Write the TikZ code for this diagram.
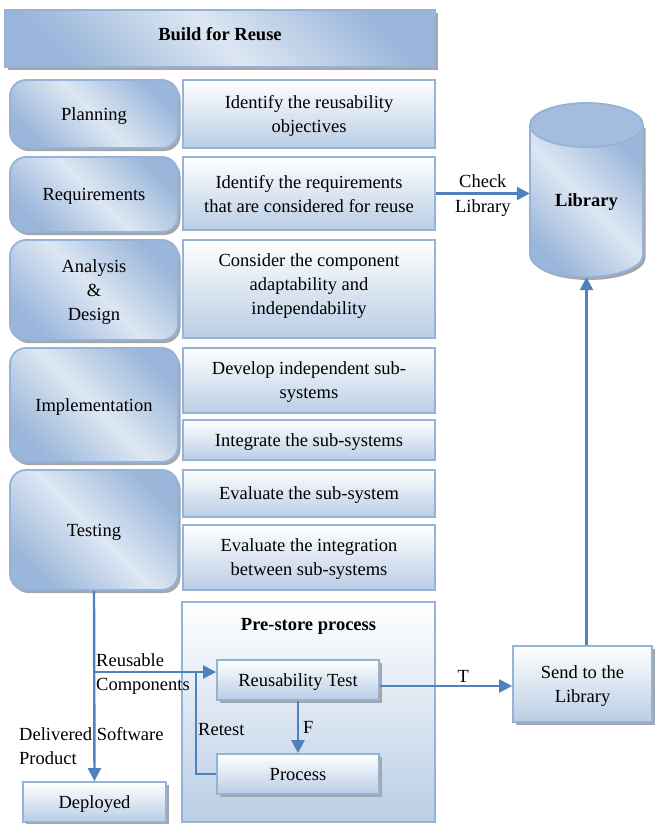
\documentclass[tikz,border=0pt]{standalone}
\usepackage{fontspec}
\setmainfont{Liberation Serif}
\usetikzlibrary{arrows.meta,shadows,calc}
\definecolor{bord}{HTML}{95B3D7}
\definecolor{arrc}{HTML}{4F81BD}
\definecolor{lite}{HTML}{B9CDE5}
\definecolor{dk}{HTML}{9AB6DA}
\definecolor{mid}{HTML}{DDE7F3}
\begin{document}
\begin{tikzpicture}[x=1pt,y=-1pt,
 every node/.style={font=\fontsize{18.5}{24}\selectfont, inner sep=2pt},
 shad/.style={drop shadow={shadow xshift=2.5pt,shadow yshift=-3pt,fill=gray!70,opacity=1}},
 phase/.style={draw=bord, line width=1.8pt, rounded corners=16pt, top color=dk, bottom color=dk, middle color=mid, shading angle=-45, shad, align=center, text depth=0pt},
 titlebox/.style={draw=bord, line width=1.8pt, top color=dk, bottom color=dk, middle color=mid, shading angle=-45, shad, align=center, text depth=10pt},
 desc/.style={draw=bord, line width=1.8pt, top color=white, bottom color=lite, align=center, text depth=0pt},
 procbox/.style={desc, shad},
 arr/.style={draw=arrc, line width=2.4pt, -{Triangle[length=13pt,width=13pt]}},
 ln/.style={draw=arrc, line width=2.4pt},
 lbl/.style={inner sep=2pt, align=center}
]
\useasboundingbox (0,0) rectangle (654,824);

% title
\node[titlebox, minimum width=430, minimum height=57] (title) at (220,38.5) {\textbf{Build for Reuse}};

% phases
\node[phase, minimum width=168, minimum height=68] (plan) at (94,114) {Planning};
\node[phase, minimum width=168, minimum height=75] (req) at (94,194.5) {Requirements};
\node[phase, minimum width=168, minimum height=100] (ad) at (94,290) {Analysis\\\&\\Design};
\node[phase, minimum width=168, minimum height=114] (impl) at (94,405) {Implementation};
\node[phase, minimum width=168, minimum height=120] (test) at (94,530) {Testing};

% descriptions
\node[desc, minimum width=252, minimum height=68] (d1) at (309,114) {Identify the reusability\\objectives};
\node[desc, minimum width=252, minimum height=73] (d2) at (309,193.5) {Identify the requirements\\that are considered for reuse};
\node[desc, minimum width=252, minimum height=98] (d3) at (309,289) {};
\node[lbl] (d3t) at (309,286) {Consider the component\\adaptability and\\independability};
\node[desc, minimum width=252, minimum height=65] (d4) at (309,380.5) {Develop independent sub-\\systems};
\node[desc, minimum width=252, minimum height=40] (d5) at (309,440) {Integrate the sub-systems};
\node[desc, minimum width=252, minimum height=47] (d6) at (309,493.5) {Evaluate the sub-system};
\node[desc, minimum width=252, minimum height=65] (d7) at (309,557.5) {Evaluate the integration\\between sub-systems};

% pre-store process
\node[desc, minimum width=253, minimum height=220] (pre) at (308.5,712) {};
\node[lbl] (pretitle) at (308.5,626) {\textbf{Pre-store process}};
\node[procbox, minimum width=162, minimum height=40] (rt) at (298,680) {Reusability Test};
\node[procbox, minimum width=162, minimum height=40] (proc) at (298,774) {Process};

% deployed and send
\node[procbox, minimum width=143, minimum height=40] (dep) at (94.5,802) {Deployed};
\node[procbox, minimum width=139, minimum height=76] (send) at (582.5,684) {Send to the\\Library};

% library cylinder
\path[draw=bord, line width=1.8pt, top color=dk, bottom color=dk, middle color=mid, shading angle=-45, shad]
  (530,125) -- (530,255) arc[start angle=180,end angle=0,x radius=56.5,y radius=22] -- (643,125) -- cycle;
\path[draw=bord, line width=1.8pt, fill=dk!90] (586.5,125) ellipse[x radius=56.5,y radius=22];
\node[minimum width=113, minimum height=174, inner sep=0pt] (lib) at (586.5,190) {};
\node[lbl] (libt) at (586.5,202) {\textbf{Library}};

% connectors
\draw[arr] (d2.east) -- node[above, yshift=3pt] {Check} node[below, yshift=-3pt] {Library} (d2.east -| lib.west);
\draw[arr] (test.south) -- (dep.north);
\coordinate (rtin) at ([yshift=8pt]rt.west);
\draw[arr] (test.south |- rtin) -- (rtin);
\coordinate (retop) at (196,672);
\draw[ln] (proc.west) -| (retop);
\draw[arr] (rt.south) -- node[right, xshift=2pt] {F} (proc.north);
\coordinate (rtout) at ([yshift=-6pt]rt.east);
\draw[arr] (rtout) -- node[above, pos=0.63] {T} (rtout -| send.west);
\draw[arr] (send.north -| lib.south) -- (lib.south);

% labels
\node[anchor=west, align=left] (rclab) at (94,674) {Reusable\\Components};
\node[anchor=west] (retlab) at (196,730) {Retest};
\node[anchor=west, align=left] (dsp) at (17,746) {Delivered Software\\Product};
\end{tikzpicture}
\end{document}
